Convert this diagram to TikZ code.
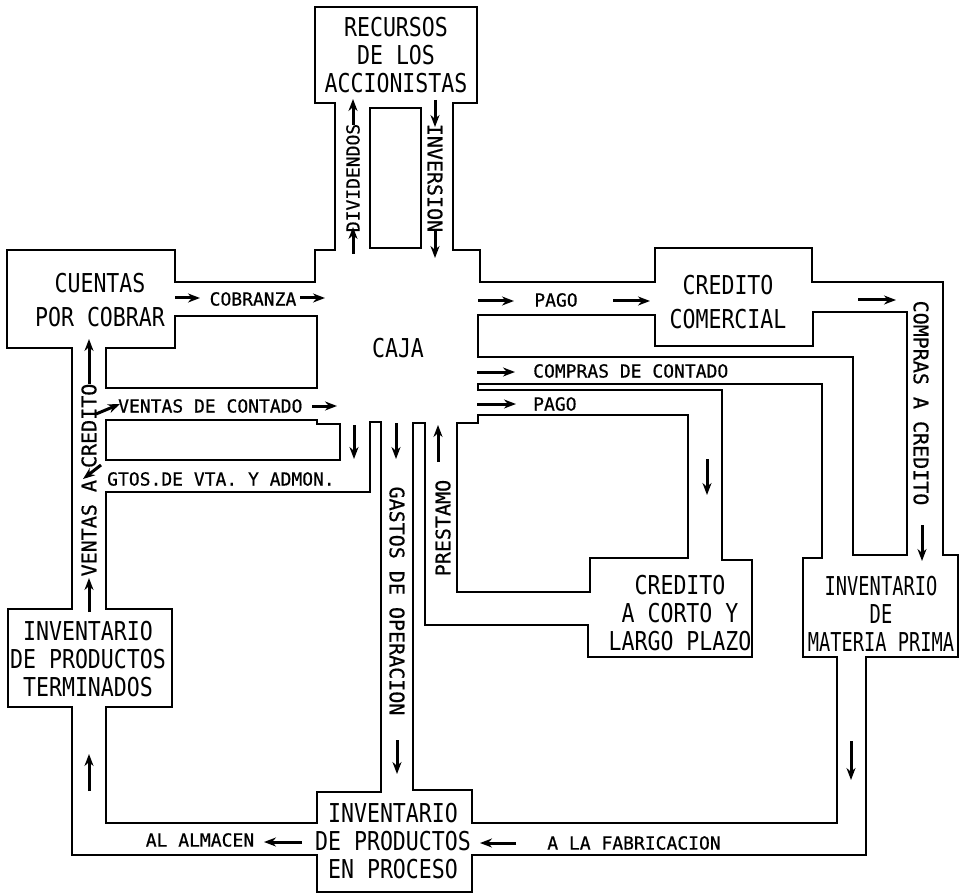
\documentclass[tikz,border=0pt]{standalone}
\usepackage{fontspec}
\usetikzlibrary{arrows.meta}
\newfontfamily\boxfont{DejaVu Sans Mono}[FakeStretch=0.83]
\newfontfamily\boxfontn{DejaVu Sans Mono}[FakeStretch=0.72]
\newfontfamily\labfont{DejaVu Sans Mono}[FakeBold=0.6]
\begin{document}
\begin{tikzpicture}[x=1pt,y=-1pt,
  wall/.style={line width=1.8pt, line join=miter},
  flowarr/.style={draw, line width=3pt, arrows={-Stealth[length=12pt,width=9pt]}},
  boxlbl/.style={font=\boxfont\fontsize{26}{28}\selectfont, align=center, inner sep=0pt},
  lbl/.style={font=\labfont\fontsize{18}{20}\selectfont, inner sep=0pt},
  vlbl/.style={font=\labfont\fontsize{20}{22}\selectfont, inner sep=0pt}]
\fill[white] (0,0) rectangle (961,893);
\useasboundingbox (0,0) rectangle (961,893);

% outer boundary
\draw[wall] (175,282) -- (175,250) -- (7,250) -- (7,348) -- (72,348) -- (72,609)
  -- (8,609) -- (8,707) -- (72,707) -- (72,855) -- (317,855) -- (317,892)
  -- (472,892) -- (472,855) -- (866,855) -- (866,657) -- (958,657) -- (958,555)
  -- (943,555) -- (943,282) -- (812,282) -- (812,248) -- (655,248) -- (655,282)
  -- (480,282) -- (480,250) -- (453,250) -- (453,103) -- (477,103) -- (477,7)
  -- (315,7) -- (315,103) -- (335,103) -- (335,250) -- (315,250) -- (315,282) -- cycle;
% islands
\draw[wall] (370,108) rectangle (421,248);
\draw[wall] (106,348) -- (175,348) -- (175,316) -- (317,316) -- (317,388) -- (106,388) -- cycle;
\draw[wall] (106,420) -- (317,420) -- (317,424) -- (340,424) -- (340,460) -- (106,460) -- cycle;
\draw[wall] (106,492) -- (370,492) -- (370,422) -- (381,422) -- (381,792) -- (317,792)
  -- (317,823) -- (106,823) -- (106,707) -- (172,707) -- (172,609) -- (106,609) -- cycle;
\draw[wall] (478,315) -- (655,315) -- (655,346) -- (813,346) -- (813,312) -- (907,312)
  -- (907,555) -- (853,555) -- (853,357) -- (478,357) -- cycle;
\draw[wall] (457,423) -- (478,423) -- (478,415) -- (688,415) -- (688,558) -- (590,558)
  -- (590,592) -- (457,592) -- cycle;
\draw[wall] (478,384) -- (822,384) -- (822,558) -- (803,558) -- (803,657) -- (837,657)
  -- (837,823) -- (472,823) -- (472,790) -- (413,790) -- (413,423) -- (425,423)
  -- (425,625) -- (588,625) -- (588,657) -- (752,657) -- (752,560) -- (722,560)
  -- (722,390) -- (478,390) -- cycle;

% box labels
\node[boxlbl] (recursos) at (396,55) {RECURSOS\\DE LOS\\ACCIONISTAS};
\node[boxlbl] (cuentas) at (100,300) {CUENTAS\\[6pt]POR COBRAR};
\node[boxlbl] (comercial) at (728,302) {CREDITO\\[6pt]COMERCIAL};
\node[boxlbl] (caja) at (398,348) {CAJA};
\node[boxlbl, font=\boxfontn\fontsize{26}{28}\selectfont] (mp) at (881,614) {INVENTARIO\\DE\\MATERIA PRIMA};
\node[boxlbl] (corto) at (680,613) {CREDITO\\A CORTO Y\\LARGO PLAZO};
\node[boxlbl] (invpt) at (88,659) {INVENTARIO\\DE PRODUCTOS\\TERMINADOS};
\node[boxlbl] (invpp) at (393,841) {INVENTARIO\\DE PRODUCTOS\\EN PROCESO};

% flow labels
\node[lbl] (cobranza) at (253,299) {COBRANZA};
\node[lbl] (pago1) at (556,300) {PAGO};
\node[lbl, anchor=west] (comprascont) at (533,371) {COMPRAS DE CONTADO};
\node[lbl, anchor=west] (pago2) at (533,404) {PAGO};
\node[lbl, anchor=west] (ventascont) at (118,406) {VENTAS DE CONTADO};
\node[lbl, anchor=west] (gtos) at (107,479) {GTOS.DE VTA. Y ADMON.};
\node[lbl] (almacen) at (200,840) {AL ALMACEN};
\node[lbl] (fabric) at (634,843) {A LA FABRICACION};
\node[vlbl, font=\labfont\fontsize{18}{20}\selectfont, rotate=90] (divid) at (353,178) {DIVIDENDOS};
\node[vlbl, rotate=-90] (inver) at (435,178) {INVERSION};
\node[vlbl, rotate=-90] (comprascred) at (921,403) {COMPRAS A CREDITO};
\node[vlbl, rotate=-90] (gastos) at (397,601) {GASTOS DE OPERACION};
\node[vlbl, rotate=90] (prestamo) at (443,528) {PRESTAMO};
\node[vlbl, rotate=90] (ventascred) at (89,480) {VENTAS A CREDITO};

% arrows
\path[flowarr] (175,298) -- (200,298);
\path[flowarr] (300,298) -- (325,298);
\path[flowarr] (478,301) -- (514,301);
\path[flowarr] (613,301) -- (650,301);
\path[flowarr] (858,300) -- (896,300);
\path[flowarr] (477,372) -- (515,372);
\path[flowarr] (477,404) -- (516,404);
\path[flowarr] (707,459) -- (707,495);
\path[flowarr] (438,462) -- (438,425);
\path[flowarr] (396,423) -- (396,459);
\path[flowarr] (397,740) -- (397,774);
\path[flowarr] (354,425) -- (354,459);
\path[flowarr] (312,406) -- (337,406);
\path[flowarr] (96,414) -- (120,404);
\path[flowarr] (101,465) -- (83,479);
\path[flowarr] (89,612) -- (89,578);
\path[flowarr] (89,384) -- (89,339);
\path[flowarr] (353,125) -- (353,99);
\path[flowarr] (353,254) -- (353,227);
\path[flowarr] (435,100) -- (435,127);
\path[flowarr] (435,229) -- (435,258);
\path[flowarr] (922,525) -- (922,561);
\path[flowarr] (302,842) -- (264,842);
\path[flowarr] (516,843) -- (480,843);
\path[flowarr] (851,741) -- (851,780);
\path[flowarr] (89,791) -- (89,754);
\end{tikzpicture}
\end{document}
